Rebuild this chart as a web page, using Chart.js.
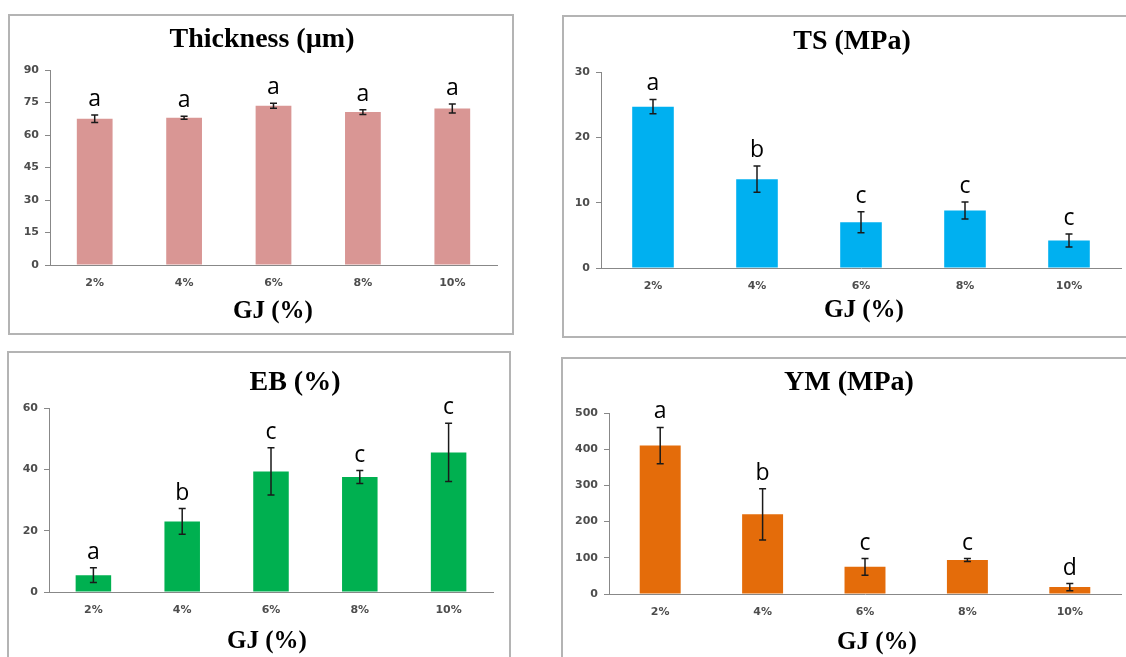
<!DOCTYPE html>
<html>
<head>
<meta charset="utf-8">
<script src="https://cdn.jsdelivr.net/npm/chart.js@4.4.1/dist/chart.umd.min.js"></script>
<style>
  html, body { margin: 0; padding: 0; background: #fff; width: 1126px; height: 657px; overflow: hidden; position: relative; }
  .frame { position: absolute; box-sizing: border-box; border: 2px solid #b4b4b4; }
  canvas { position: absolute; }
</style>
</head>
<body>
<div class="frame" style="left:8px;top:14px;width:506px;height:321px"></div>
<div class="frame" style="left:562px;top:15px;width:600px;height:323px"></div>
<div class="frame" style="left:7px;top:351px;width:504px;height:400px"></div>
<div class="frame" style="left:561px;top:357px;width:600px;height:400px"></div>

<canvas id="thickness" width="504" height="319" style="left:9px;top:15px"></canvas>
<canvas id="ts" width="563" height="321" style="left:563px;top:16px"></canvas>
<canvas id="eb" width="502" height="305" style="left:8px;top:352px"></canvas>
<canvas id="ym" width="564" height="299" style="left:562px;top:358px"></canvas>

<script>
// Gum content of the films
const categories = ['2%', '4%', '6%', '8%', '10%'];

// Thickness (µm)
const thicknessMean = [67.5, 68.0, 73.5, 70.6, 72.2];
const thicknessSD = [1.7, 0.7, 1.2, 1.1, 2.1];
const thicknessGroups = ['a', 'a', 'a', 'a', 'a'];
const thicknessTicks = [0, 15, 30, 45, 60, 75, 90];

// Tensile strength (MPa)
const tsMean = [24.7, 13.6, 7.0, 8.8, 4.2];
const tsSD = [1.1, 2.0, 1.6, 1.3, 1.0];
const tsGroups = ['a', 'b', 'c', 'c', 'c'];
const tsTicks = [0, 10, 20, 30];

// Elongation at break (%)
const ebMean = [5.5, 23.0, 39.3, 37.5, 45.5];
const ebSD = [2.4, 4.2, 7.7, 2.1, 9.5];
const ebGroups = ['a', 'b', 'c', 'c', 'c'];
const ebTicks = [0, 20, 40, 60];

// Young's modulus (MPa)
const ymMean = [410, 220, 75, 94, 19];
const ymSD = [50, 71, 23, 4, 10];
const ymGroups = ['a', 'b', 'c', 'c', 'd'];
const ymTicks = [0, 100, 200, 300, 400, 500];

const AXIS_GREY = '#888888';
const TICK_TEXT = '#4d4d4d';
const tickFont = { family: 'DejaVu Sans', size: 11, weight: 'bold' };

// Error bars (mean ± SD) and significance letters above each bar
const errorBarPlugin = {
  id: 'errorBars',
  afterDatasetsDraw(chart, args, opts) {
    const { ctx } = chart;
    const y = chart.scales.y;
    const meta = chart.getDatasetMeta(0);
    const ds = chart.data.datasets[0];
    ctx.save();
    meta.data.forEach((bar, i) => {
      const v = ds.data[i], sd = opts.sd[i];
      const top = y.getPixelForValue(v + sd);
      const bot = y.getPixelForValue(Math.max(0, v - sd));
      const x = bar.x;
      ctx.strokeStyle = '#1a1a1a';
      ctx.lineWidth = 1.5;
      ctx.beginPath();
      ctx.moveTo(x, top); ctx.lineTo(x, bot);
      ctx.moveTo(x - 3.5, top); ctx.lineTo(x + 3.5, top);
      ctx.moveTo(x - 3.5, bot); ctx.lineTo(x + 3.5, bot);
      ctx.stroke();
      ctx.fillStyle = '#000';
      ctx.font = '23px "Open Sans"';
      ctx.textAlign = 'center';
      ctx.textBaseline = 'alphabetic';
      ctx.fillText(opts.groups[i], x, top - 9);
    });
    ctx.restore();
  }
};

// Panel heading and x-axis caption
const panelTextPlugin = {
  id: 'panelText',
  afterDraw(chart, args, opts) {
    const { ctx } = chart;
    ctx.save();
    ctx.fillStyle = '#000';
    ctx.textAlign = 'center';
    ctx.textBaseline = 'middle';
    ctx.font = 'bold 28px "Liberation Serif"';
    ctx.fillText(opts.title, opts.titleX, opts.titleY);
    ctx.font = 'bold 25px "Liberation Serif"';
    ctx.fillText('GJ (%)', opts.captionX, opts.captionY);
    ctx.restore();
  }
};

function makePanel(id, p) {
  return new Chart(document.getElementById(id), {
    type: 'bar',
    data: {
      labels: categories,
      datasets: [{
        data: p.mean,
        backgroundColor: p.color,
        borderWidth: 0,
        barPercentage: 0.4,
        categoryPercentage: 1.0
      }]
    },
    options: {
      responsive: false,
      animation: false,
      devicePixelRatio: 1,
      layout: { padding: { left: 0, right: p.padRight, top: p.padTop, bottom: 0 } },
      plugins: {
        legend: { display: false },
        tooltip: { enabled: false },
        errorBars: { sd: p.sd, groups: p.groups },
        panelText: { title: p.title, titleX: p.titleX, titleY: p.titleY, captionX: p.captionX, captionY: p.captionY }
      },
      scales: {
        x: {
          type: 'category',
          offset: true,
          grid: { display: false, drawTicks: false },
          border: { display: true, color: AXIS_GREY, width: 1 },
          ticks: { font: tickFont, color: TICK_TEXT, padding: 12, maxRotation: 0 },
          afterFit: s => { s.height = p.xAxisHeight; }
        },
        y: {
          min: 0,
          max: p.ticks[p.ticks.length - 1],
          afterBuildTicks: s => { s.ticks = p.ticks.map(v => ({ value: v })); },
          grid: { display: true, drawOnChartArea: false, drawTicks: true, tickLength: 5, color: AXIS_GREY, lineWidth: 1 },
          border: { display: true, color: AXIS_GREY, width: 1 },
          ticks: { font: tickFont, color: TICK_TEXT, padding: 6 },
          afterFit: s => { s.width = p.yAxisWidth; }
        }
      }
    },
    plugins: [errorBarPlugin, panelTextPlugin]
  });
}

makePanel('thickness', {
  mean: thicknessMean, sd: thicknessSD, groups: thicknessGroups, ticks: thicknessTicks,
  color: '#D99694', title: 'Thickness (\u00b5m)',
  yAxisWidth: 41, padRight: 16, padTop: 55, xAxisHeight: 69,
  titleX: 253, titleY: 25, captionX: 264, captionY: 297
});

makePanel('ts', {
  mean: tsMean, sd: tsSD, groups: tsGroups, ticks: tsTicks,
  color: '#00B0F0', title: 'TS (MPa)',
  yAxisWidth: 38, padRight: 5, padTop: 56, xAxisHeight: 69,
  titleX: 289, titleY: 26, captionX: 301, captionY: 295
});

makePanel('eb', {
  mean: ebMean, sd: ebSD, groups: ebGroups, ticks: ebTicks,
  color: '#00B050', title: 'EB (%)',
  yAxisWidth: 41, padRight: 17, padTop: 56, xAxisHeight: 65,
  titleX: 287, titleY: 31, captionX: 259, captionY: 290
});

makePanel('ym', {
  mean: ymMean, sd: ymSD, groups: ymGroups, ticks: ymTicks,
  color: '#E46C0A', title: 'YM (MPa)',
  yAxisWidth: 47, padRight: 5, padTop: 55, xAxisHeight: 63,
  titleX: 287, titleY: 25, captionX: 315, captionY: 285
});
</script>
</body>
</html>
